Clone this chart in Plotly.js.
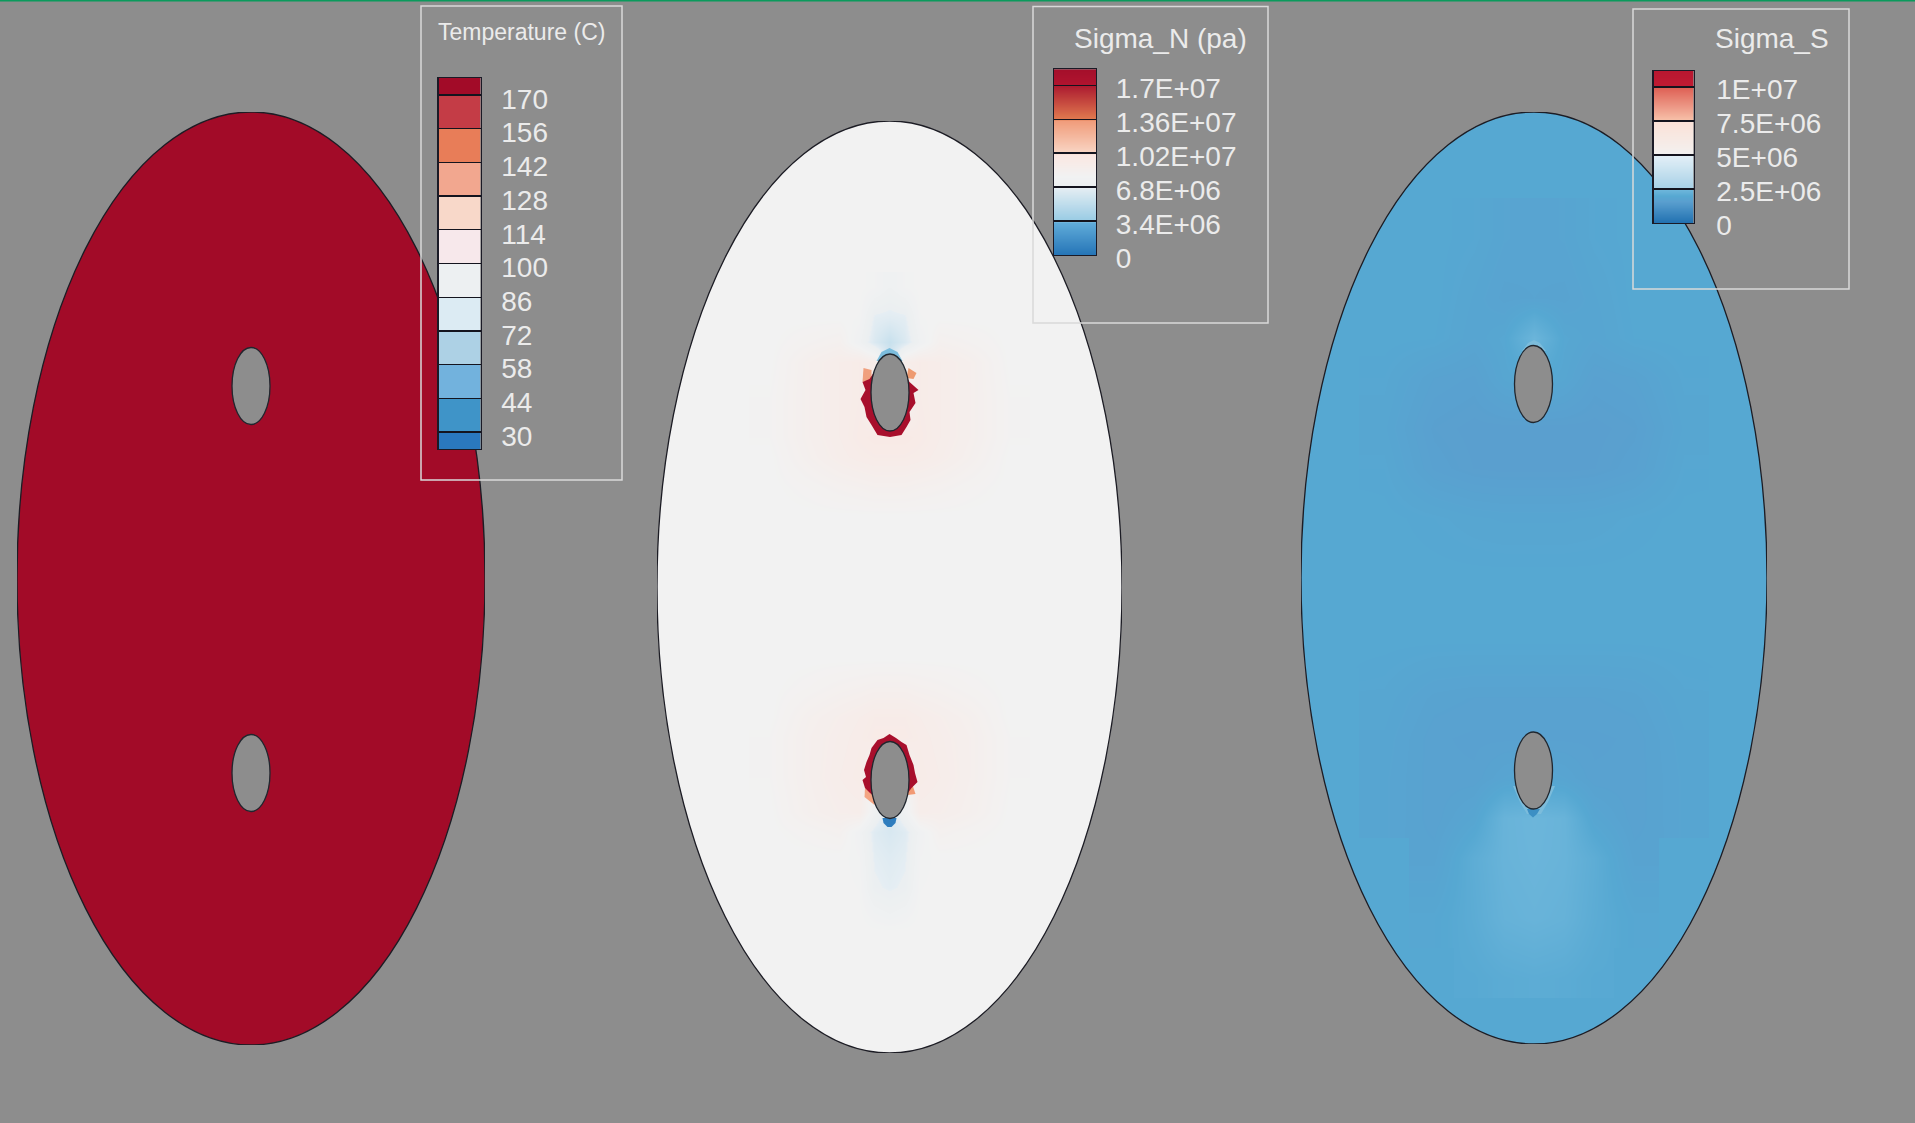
<!DOCTYPE html>
<html><head><meta charset="utf-8">
<script src="https://cdn.plot.ly/plotly-3.0.1.min.js"></script>
<style>html,body{margin:0;padding:0;background:#8d8d8d;overflow:hidden}</style>
</head><body><div id="chart" style="width:1915px;height:1123px"></div>
<script>
const W = 1915, H = 1123, BG = '#8d8d8d', TXT = '#ebebeb';
const FONT = '"Liberation Sans", Arial, sans-serif';

// --- Temperature legend
const tempEdges = [23, 30, 44, 58, 72, 86, 100, 114, 128, 142, 156, 170, 177];
const tempColors = ['#2a78be', '#3f94c8', '#72b2dd', '#add1e5', '#dcebf3', '#edf0f2',
                    '#f7e8eb', '#f8d8c9', '#f2a78f', '#e87d58', '#c43c46', '#a20b28'];
const tempTicks = [30, 44, 58, 72, 86, 100, 114, 128, 142, 156, 170];
const tempLevel = [[175, 175], [175, 175]];

// --- Sigma_N legend (values in 1E+06 Pa)
const sigmaNLevels = [0, 3.4, 6.8, 10.2, 13.6, 17, 18.6];
const sigmaNTicks = [0, 3.4, 6.8, 10.2, 13.6, 17];
const sigmaNLabels = ['0', '3.4E+06', '6.8E+06', '1.02E+07', '1.36E+07', '1.7E+07'];
const sigmaNStops = [[0, '#2474b6'], [3.399, '#63aedb'], [3.4, '#97cbe4'], [6.799, '#e6eef3'],
  [6.8, '#ebeff1'], [8, '#f2f2f2'], [10.199, '#fbe7e1'], [10.2, '#f9d7c6'], [13.599, '#f09a78'],
  [13.6, '#e27b50'], [16.999, '#ac1a30'], [17, '#b2142f'], [18.6, '#a50f2b']];

// --- Sigma_S legend (values in 1E+06 Pa)
const sigmaSLevels = [0, 2.5, 5, 7.5, 10, 11.18];
const sigmaSTicks = [0, 2.5, 5, 7.5, 10];
const sigmaSLabels = ['0', '2.5E+06', '5E+06', '7.5E+06', '1E+07'];
const sigmaSStops = [[0, '#2070b0'], [1.6, '#5a9fcf'], [2, '#56a8d2'], [2.499, '#70b8dc'],
  [2.5, '#a6d0e6'], [4.999, '#e4f0f7'], [5, '#f3f1f0'], [7.499, '#fbe1d7'], [7.5, '#f8c4ac'],
  [9.999, '#de5f54'], [10, '#c11b33'], [11.18, '#b81730']];

// --- Sigma_N field around the holes (plate coordinates)
const sigmaNFieldX = [-120, -80, -50, -30, -15, 0, 15, 30, 50, 80, 120];
const sigmaNFieldY = [300, 270, 245, 225, 190, 150, 130, 100, 70, -70, -100, -130, -150, -190, -225, -245, -270, -300, -330, -345];
const sigmaNField = [
  [8, 8, 8, 8, 7.8, 7.4, 7.8, 8, 8, 8, 8],
  [8, 8, 8, 7.9, 6.7, 6.6, 6.7, 7.9, 8, 8, 8],
  [8, 8.3, 8.5, 7.5, 6.3, 5.5, 6.3, 7.5, 8.5, 8.3, 8],
  [8, 8.7, 9.1, 9.3, 9, 6, 9, 9.3, 9.1, 8.7, 8],
  [8.1, 8.7, 9.1, 9.3, 8, 8, 8, 9.3, 9.1, 8.7, 8.1],
  [8.1, 8.7, 9.1, 9.4, 9.6, 9.6, 9.6, 9.4, 9.1, 8.7, 8.1],
  [8, 8.6, 9, 9.2, 9.3, 9.3, 9.3, 9.2, 9, 8.6, 8],
  [8, 8.2, 8.4, 8.5, 8.6, 8.6, 8.6, 8.5, 8.4, 8.2, 8],
  [8, 8, 8, 8, 8, 8, 8, 8, 8, 8, 8],
  [8, 8, 8, 8, 8, 8, 8, 8, 8, 8, 8],
  [8, 8.2, 8.4, 8.5, 8.6, 8.6, 8.6, 8.5, 8.4, 8.2, 8],
  [8, 8.6, 8.9, 9.1, 9.3, 9.3, 9.3, 9.1, 8.9, 8.6, 8],
  [8.1, 8.7, 9, 9.2, 9.4, 9.4, 9.4, 9.2, 9, 8.7, 8.1],
  [8.1, 8.7, 9.1, 9.3, 8, 8, 8, 9.3, 9.1, 8.7, 8.1],
  [8, 8.6, 8.9, 9, 7.5, 6, 7.5, 9, 8.9, 8.6, 8],
  [8, 8.2, 8.4, 7.6, 6.5, 6.2, 6.5, 7.6, 8.4, 8.2, 8],
  [8, 8, 8, 7.8, 6.7, 6.5, 6.7, 7.8, 8, 8, 8],
  [8, 8, 8, 7.9, 6.9, 6.7, 6.9, 7.9, 8, 8, 8],
  [8, 8, 8, 8, 7.7, 7.5, 7.7, 8, 8, 8, 8],
  [8, 8, 8, 8, 8, 8, 8, 8, 8, 8, 8]
];

// --- Sigma_N saturated zones at the hole edges
const ringUpperX = [-16, -20, -27, -24, -29, -25, -23, -18, -12, 0.5, 12, 17, 21, 20, 26, 24, 29, 20, 15.5];
const ringUpperY = [214, 208, 205, 197, 188, 180, 170, 162, 152, 150, 152, 160, 167, 175, 184, 194, 197, 205, 214];
const ringLowerX = [-14.5, -19.5, -24.5, -27, -23.5, -25.5, -23, -20, -18, -12, -6, 0, 6.5, 12, 17, 20, 24, 25.5, 28, 22, 15.5];
const ringLowerY = [-210, -206, -201, -193, -190, -183, -175, -168, -161, -153, -151, -147, -151, -155, -158, -168, -178, -186, -195, -201, -210];
const warmUpperLeftX = [-26, -18, -18, -27], warmUpperLeftY = [219, 217, 207, 205];
const warmUpperRightX = [19, 27, 24, 17], warmUpperRightY = [219, 214, 208, 209];
const warmLowerLeftX = [-24.5, -14.5, -15, -25], warmLowerLeftY = [-201, -210, -218, -210];
const warmLowerRightX = [18, 26, 23, 15.5], warmLowerRightY = [-208, -207, -198, -200];
const coldUpperX = [-13, -8, 0, 8, 13], coldUpperY = [226, 235, 239, 235, 226];
const coldSpotNX = [-7, -6, -2, 2, 6, 7], coldSpotNY = [-231, -236, -240, -240, -236, -231];
const coldSpotSX = [-7, -5, -1, 3, 6], coldSpotSY = [-231, -236, -239.5, -236, -231];
const glowUpperX = [-12, -6, 0, 6, 12], glowUpperY = [227, 235, 238, 235, 227];
const glowLowerX = [-21, -14, -7, 7, 14, 21], glowLowerY = [-208, -224, -236, -236, -224, -208];

// --- Sigma_S field over the plate
const sigmaSFieldX = [-200, -150, -100, -60, -30, 0, 30, 60, 100, 150, 200];
const sigmaSFieldY = [420, 340, 280, 240, 200, 150, 110, 60, 0, -60, -120, -160, -200, -240, -280, -340, -400, -440];
const sigmaSField = [
  [2, 2, 2, 2, 1.97, 1.95, 1.97, 2, 2, 2, 2],
  [2, 2, 2, 1.95, 1.85, 1.82, 1.85, 1.95, 2, 2, 2],
  [2, 2, 2, 1.88, 1.78, 1.8, 1.78, 1.88, 2, 2, 2],
  [2, 2, 1.98, 1.85, 1.95, 2.4, 1.95, 1.85, 1.98, 2, 2],
  [2, 1.95, 1.75, 1.7, 1.9, 2, 1.9, 1.7, 1.75, 1.95, 2],
  [2, 1.9, 1.65, 1.6, 1.6, 1.6, 1.6, 1.6, 1.65, 1.9, 2],
  [2, 1.95, 1.7, 1.62, 1.6, 1.6, 1.6, 1.62, 1.7, 1.95, 2],
  [2, 2, 1.95, 1.9, 1.88, 1.88, 1.88, 1.9, 1.95, 2, 2],
  [2, 2, 2, 2, 2, 2, 2, 2, 2, 2, 2],
  [2, 2, 2, 2, 2, 2, 2, 2, 2, 2, 2],
  [1.98, 1.92, 1.78, 1.75, 1.75, 1.75, 1.75, 1.75, 1.78, 1.92, 1.98],
  [1.95, 1.88, 1.72, 1.7, 1.7, 1.7, 1.7, 1.7, 1.72, 1.88, 1.95],
  [1.95, 1.86, 1.72, 1.72, 1.85, 1.9, 1.85, 1.72, 1.72, 1.86, 1.95],
  [1.95, 1.86, 1.72, 1.9, 2.35, 2.42, 2.35, 1.9, 1.72, 1.86, 1.95],
  [2, 1.9, 1.78, 2.15, 2.35, 2.4, 2.35, 2.15, 1.78, 1.9, 2],
  [2, 1.97, 1.95, 2.12, 2.3, 2.35, 2.3, 2.12, 1.95, 1.97, 2],
  [2, 2, 2, 2.04, 2.1, 2.13, 2.1, 2.04, 2, 2, 2],
  [2, 2, 2, 2, 2, 2.02, 2, 2, 2, 2, 2]
];

// --- Layout geometry (pixels)
const plates = [
  {left: 17, right: 485, top: 112, bottom: 1045, fill: tempColors[tempColors.length - 1], holeX: 0, holes: [192.5, -194.5]},
  {left: 657, right: 1122, top: 121, bottom: 1053, fill: '#f2f2f2', holeX: 0.5, holes: [194.5, -193]},
  {left: 1301, right: 1767, top: 112, bottom: 1044, fill: '#56a8d2', holeX: -0.5, holes: [194, -192.5]}
];
const HOLE_RX = 19, HOLE_RY = 38.5;
const legends = [
  {left: 438.5, right: 480.5, top: 78, bottom: 449, frame: [421, 6, 622, 480], standoff: 14, shift: 4},
  {left: 1054, right: 1096, top: 69.3, bottom: 255, frame: [1033, 6.5, 1268, 323], standoff: 13, shift: 3},
  {left: 1653.5, right: 1693.5, top: 71, bottom: 223, frame: [1633, 9, 1849, 289], standoff: 16, shift: 2}
];
const titles = [
  {text: 'Temperature (C)', x: 521, y: 32, size: 23},
  {text: 'Sigma_N (pa)', x: 1160, y: 38, size: 28},
  {text: 'Sigma_S', x: 1772, y: 39, size: 28}
];

const normStops = (stops, max) => stops.map(([v, c]) => [v / max, c]);
const tempMin = tempEdges[0], tempMax = tempEdges[tempEdges.length - 1];
const tempScale = [];
tempColors.forEach((c, i) => {
  tempScale.push([(tempEdges[i] - tempMin) / (tempMax - tempMin), c]);
  tempScale.push([(tempEdges[i + 1] - tempMin) / (tempMax - tempMin), c]);
});
const tempMids = tempColors.map((c, i) => [(tempEdges[i] + tempEdges[i + 1]) / 2]);
const nScale = normStops(sigmaNStops, 18.6), sScale = normStops(sigmaSStops, 11.18);

const layout = {
  width: W, height: H, margin: {l: 0, r: 0, t: 0, b: 0, pad: 0},
  paper_bgcolor: BG, plot_bgcolor: 'rgba(0,0,0,0)', showlegend: false,
  font: {family: FONT, color: TXT}, shapes: [], annotations: []
};
const domX = (a, b) => [a / W, b / W], domY = (t, b) => [1 - b / H, 1 - t / H];

plates.forEach((p, i) => {
  const n = i + 1, xk = n === 1 ? 'xaxis' : 'xaxis' + n, yk = n === 1 ? 'yaxis' : 'yaxis' + n;
  const xr = n === 1 ? 'x' : 'x' + n, yr = n === 1 ? 'y' : 'y' + n;
  const a = (p.right - p.left) / 2, b = (p.bottom - p.top) / 2;
  layout[xk] = {domain: domX(p.left, p.right), range: [-a, a], visible: false, fixedrange: true, anchor: yr};
  layout[yk] = {domain: domY(p.top, p.bottom), range: [-b, b], visible: false, fixedrange: true, anchor: xr};
  layout.shapes.push({type: 'circle', xref: xr, yref: yr, x0: -a, x1: a, y0: -b, y1: b, layer: 'below',
    fillcolor: p.fill, line: {color: '#1c1c24', width: 1.3}});
  p.holes.forEach(hy => layout.shapes.push({type: 'circle', xref: xr, yref: yr, layer: 'above',
    x0: p.holeX - HOLE_RX, x1: p.holeX + HOLE_RX, y0: hy - HOLE_RY, y1: hy + HOLE_RY,
    fillcolor: BG, line: {color: '#20262e', width: 1.3}}));
  p.a = a; p.b = b;
});

const legendAxes = [
  {range: [23, 177], vals: tempTicks, text: tempTicks.map(String)},
  {range: [0, 18.6], vals: sigmaNTicks, text: sigmaNLabels},
  {range: [0, 11.18], vals: sigmaSTicks, text: sigmaSLabels}
];
legends.forEach((l, i) => {
  const n = i + 4, ax = legendAxes[i];
  layout['xaxis' + n] = {domain: domX(l.left, l.right), range: [0, 1], anchor: 'y' + n, fixedrange: true,
    showticklabels: false, ticks: '', showgrid: false, zeroline: false,
    showline: true, mirror: true, linecolor: '#1a1a26', linewidth: 1.2};
  layout['yaxis' + n] = {domain: domY(l.top, l.bottom), range: ax.range, anchor: 'x' + n, side: 'right', fixedrange: true,
    tickmode: 'array', tickvals: ax.vals, ticktext: ax.text, ticks: 'inside', ticklen: l.right - l.left,
    tickcolor: '#14141e', tickwidth: 1.4, showgrid: false, zeroline: false,
    showline: true, mirror: true, linecolor: '#1a1a26', linewidth: 1.2,
    ticklabelstandoff: l.standoff, ticklabelshift: l.shift,
    tickfont: {family: FONT, size: 28, color: TXT}};
  const [x0, y0, x1, y1] = l.frame;
  layout.shapes.push({type: 'rect', xref: 'paper', yref: 'paper', layer: 'above',
    x0: x0 / W, x1: x1 / W, y0: 1 - y1 / H, y1: 1 - y0 / H,
    fillcolor: 'rgba(0,0,0,0)', line: {color: '#d9d9d9', width: 1.5}});
});
titles.forEach(t => layout.annotations.push({text: t.text, xref: 'paper', yref: 'paper', showarrow: false,
  x: t.x / W, y: 1 - t.y / H, xanchor: 'center', yanchor: 'middle', font: {family: FONT, size: t.size, color: TXT}}));
layout.shapes.push({type: 'rect', xref: 'paper', yref: 'paper', layer: 'above', x0: 0, x1: 1, y0: 1 - 1.5 / H, y1: 1,
  fillcolor: '#0a9a5c', line: {width: 0}});

// A grid cell is kept only when its outer corner stays inside the plate outline.
const halfStep = (arr, k) => {
  const prev = k > 0 ? Math.abs(arr[k] - arr[k - 1]) : 0, next = k < arr.length - 1 ? Math.abs(arr[k + 1] - arr[k]) : 0;
  return Math.max(prev, next) / 2;
};
const cellInside = (p, xs, ys, c, r) => {
  const cx = Math.abs(xs[c]) + halfStep(xs, c), cy = Math.abs(ys[r]) + halfStep(ys, r);
  return (cx * cx) / (p.a * p.a) + (cy * cy) / (p.b * p.b) < 0.97;
};
const sMasked = sigmaSField.map((row, r) => row.map((v, c) => cellInside(plates[2], sigmaSFieldX, sigmaSFieldY, c, r) ? v : null));

const patch = (x, y, color, xa, ya) => ({type: 'scatter', mode: 'none', x, y, fill: 'toself', fillcolor: color, xaxis: xa, yaxis: ya, hoverinfo: 'skip'});

const traces = [
  {type: 'heatmap', x: [-60, 60], y: [-150, 150], z: tempLevel, xaxis: 'x', yaxis: 'y', zmin: tempMin, zmax: tempMax,
    colorscale: tempScale, showscale: false, hoverinfo: 'skip'},
  {type: 'heatmap', x: sigmaNFieldX, y: sigmaNFieldY, z: sigmaNField, xaxis: 'x2', yaxis: 'y2', zmin: 0, zmax: 18.6,
    colorscale: nScale, zsmooth: 'best', showscale: false, hoverinfo: 'skip'},
  patch(coldUpperX, coldUpperY, '#7cbddd', 'x2', 'y2'),
  patch(warmUpperLeftX, warmUpperLeftY, '#f0a07e', 'x2', 'y2'),
  patch(warmUpperRightX, warmUpperRightY, '#ee9a70', 'x2', 'y2'),
  patch(warmLowerLeftX, warmLowerLeftY, '#f4a583', 'x2', 'y2'),
  patch(warmLowerRightX, warmLowerRightY, '#f29a74', 'x2', 'y2'),
  patch(ringUpperX, ringUpperY, '#a80f2c', 'x2', 'y2'),
  patch(ringLowerX, ringLowerY, '#a80f2c', 'x2', 'y2'),
  patch(coldSpotNX, coldSpotNY, '#2e7dbe', 'x2', 'y2'),
  {type: 'heatmap', x: sigmaSFieldX, y: sigmaSFieldY, z: sMasked, xaxis: 'x3', yaxis: 'y3', zmin: 0, zmax: 11.18,
    colorscale: sScale, zsmooth: 'best', showscale: false, hoverinfo: 'skip'},
  patch(glowUpperX, glowUpperY, '#7cbcdb', 'x3', 'y3'),
  patch(glowLowerX, glowLowerY, '#7cbcdb', 'x3', 'y3'),
  patch(coldSpotSX, coldSpotSY, '#3c8fc4', 'x3', 'y3'),
  {type: 'heatmap', x: [0, 1], y: tempEdges, z: tempMids.map(r => [r[0]]), xaxis: 'x4', yaxis: 'y4', zmin: tempMin, zmax: tempMax,
    colorscale: tempScale, showscale: false, hoverinfo: 'skip'},
  {type: 'heatmap', x: [0, 1], y: sigmaNLevels, z: sigmaNLevels.map(v => [v, v]), xaxis: 'x5', yaxis: 'y5', zmin: 0, zmax: 18.6,
    colorscale: nScale, zsmooth: 'best', showscale: false, hoverinfo: 'skip'},
  {type: 'heatmap', x: [0, 1], y: sigmaSLevels, z: sigmaSLevels.map(v => [v, v]), xaxis: 'x6', yaxis: 'y6', zmin: 0, zmax: 11.18,
    colorscale: sScale, zsmooth: 'best', showscale: false, hoverinfo: 'skip'}
];
Plotly.newPlot('chart', traces, layout, {staticPlot: true, displayModeBar: false});
</script></body></html>
